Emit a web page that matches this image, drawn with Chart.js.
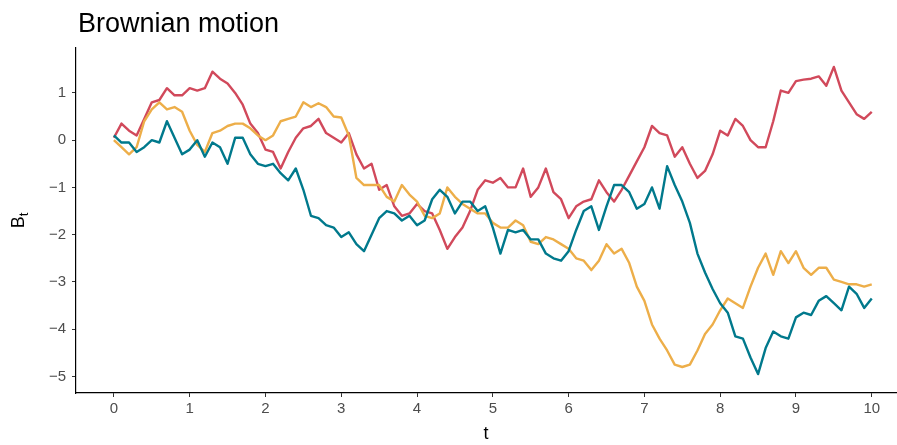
<!DOCTYPE html>
<html>
<head>
<meta charset="utf-8">
<script src="https://cdn.jsdelivr.net/npm/chart.js@4.4.1/dist/chart.umd.min.js"></script>
<style>
  html, body { margin: 0; padding: 0; background: #fff; }
</style>
</head>
<body>
<canvas id="grafico" width="897" height="445"></canvas>
<script>
// paso de tiempo entre lecturas
const DT = 0.1;

// trayectorias leidas a ojo, t = 0, 0.1, ..., 10
const rojo = [
  0.05, 0.35, 0.2, 0.1, 0.45, 0.8, 0.85, 1.1, 0.95, 0.95,
  1.1, 1.05, 1.1, 1.45, 1.3, 1.2, 1.0, 0.75, 0.35, 0.15,
  -0.2, -0.25, -0.6, -0.25, 0.05, 0.25, 0.3, 0.45, 0.15, 0.05,
  -0.05, 0.15, -0.3, -0.6, -0.5, -1.05, -0.95, -1.4, -1.6, -1.55,
  -1.35, -1.5, -1.55, -1.9, -2.3, -2.05, -1.85, -1.5, -1.05, -0.85,
  -0.9, -0.8, -1.0, -1.0, -0.6, -1.2, -1.0, -0.6, -1.1, -1.25,
  -1.65, -1.4, -1.3, -1.25, -0.85, -1.1, -1.3, -1.05, -0.75, -0.45,
  -0.15, 0.3, 0.15, 0.1, -0.35, -0.15, -0.5, -0.8, -0.65, -0.3,
  0.2, 0.1, 0.45, 0.3, 0.0, -0.15, -0.15, 0.4, 1.05, 1.0,
  1.25, 1.28, 1.3, 1.35, 1.15, 1.55, 1.05, 0.8, 0.55, 0.45,
  0.6
];
const azul = [
  0.1, -0.05, -0.05, -0.25, -0.15, 0.0, -0.05, 0.4, 0.05, -0.3,
  -0.2, 0.0, -0.35, -0.05, -0.15, -0.5, 0.05, 0.05, -0.3, -0.5,
  -0.55, -0.5, -0.7, -0.85, -0.6, -1.05, -1.6, -1.65, -1.8, -1.85,
  -2.05, -1.95, -2.2, -2.35, -2.0, -1.65, -1.5, -1.55, -1.7, -1.6,
  -1.8, -1.7, -1.25, -1.05, -1.2, -1.55, -1.3, -1.3, -1.5, -1.4,
  -1.85, -2.4, -1.9, -1.95, -1.9, -2.1, -2.1, -2.4, -2.5, -2.55,
  -2.35, -1.9, -1.5, -1.4, -1.9, -1.4, -0.95, -0.95, -1.1, -1.45,
  -1.35, -1.0, -1.45, -0.55, -0.95, -1.3, -1.75, -2.4, -2.8, -3.15,
  -3.45, -3.65, -4.15, -4.2, -4.6, -4.95, -4.4, -4.05, -4.15, -4.2,
  -3.75, -3.65, -3.7, -3.4, -3.3, -3.45, -3.6, -3.1, -3.25, -3.55,
  -3.35
];
const naranja = [
  0.0, -0.15, -0.3, -0.15, 0.4, 0.65, 0.8, 0.65, 0.7, 0.6,
  0.2, -0.1, -0.25, 0.15, 0.2, 0.3, 0.35, 0.35, 0.25, 0.1,
  0.0, 0.1, 0.4, 0.45, 0.5, 0.8, 0.7, 0.78, 0.7, 0.5,
  0.48, 0.1, -0.8, -0.95, -0.95, -0.95, -1.2, -1.3, -0.95, -1.15,
  -1.3, -1.6, -1.65, -1.55, -1.0, -1.2, -1.35, -1.45, -1.55, -1.55,
  -1.75, -1.85, -1.85, -1.7, -1.8, -2.15, -2.2, -2.05, -2.1, -2.2,
  -2.3, -2.5, -2.55, -2.75, -2.55, -2.2, -2.4, -2.3, -2.6, -3.1,
  -3.4, -3.9, -4.2, -4.45, -4.75, -4.8, -4.75, -4.45, -4.1, -3.9,
  -3.6, -3.35, -3.45, -3.55, -3.1, -2.7, -2.4, -2.85, -2.35, -2.6,
  -2.35, -2.7, -2.85, -2.7, -2.7, -2.95, -3.0, -3.05, -3.05, -3.1,
  -3.05
];

const ticksX = [0, 1, 2, 3, 4, 5, 6, 7, 8, 9, 10];
const ticksY = [-5, -4, -3, -2, -1, 0, 1];

const fuente = '"Liberation Sans", Arial, Helvetica, sans-serif';

const aPuntos = serie => serie.map((v, i) => ({ x: +(i * DT).toFixed(2), y: v }));

// titulo arriba a la izquierda, alineado con el eje
const tituloPlugin = {
  id: 'tituloPlugin',
  afterDraw(chart) {
    const ctx = chart.ctx;
    ctx.save();
    ctx.font = '27px ' + fuente;
    ctx.fillStyle = '#000';
    ctx.textBaseline = 'alphabetic';
    ctx.fillText('Brownian motion', chart.chartArea.left + 2, 32);
    ctx.restore();
  }
};

// etiqueta del eje y con subindice
const etiquetaY = {
  id: 'etiquetaY',
  afterDraw(chart) {
    const { ctx, chartArea } = chart;
    const cy = (chartArea.top + chartArea.bottom) / 2;
    ctx.save();
    ctx.translate(24, cy);
    ctx.rotate(-Math.PI / 2);
    ctx.fillStyle = '#000';
    ctx.textBaseline = 'alphabetic';
    ctx.font = '18px ' + fuente;
    const wB = ctx.measureText('B').width;
    ctx.font = '13px ' + fuente;
    const wt = ctx.measureText('t').width;
    const x0 = -(wB + wt) / 2;
    ctx.font = '18px ' + fuente;
    ctx.fillText('B', x0, 0);
    ctx.font = '13px ' + fuente;
    ctx.fillText('t', x0 + wB, 4);
    ctx.restore();
  }
};

const ctx = document.getElementById('grafico').getContext('2d');
const grafico = new Chart(ctx, {
  type: 'line',
  data: {
    datasets: [
      { label: 'B3', data: aPuntos(azul), borderColor: '#00798C' },
      { label: 'B2', data: aPuntos(naranja), borderColor: '#EDAE49' },
      { label: 'B1', data: aPuntos(rojo), borderColor: '#D1495B' }
    ].map(d => Object.assign(d, {
      borderWidth: 2.4,
      pointRadius: 0,
      tension: 0,
      fill: false,
      borderJoinStyle: 'round'
    }))
  },
  options: {
    responsive: false,
    animation: false,
    devicePixelRatio: 1,
    layout: { padding: { top: 48, left: 0, right: 1, bottom: 0 } },
    plugins: {
      legend: { display: false },
      tooltip: { enabled: false },
      title: { display: false }
    },
    scales: {
      x: {
        type: 'linear',
        min: -0.5,
        max: 10.32,
        afterBuildTicks: axis => { axis.ticks = ticksX.map(v => ({ value: v })); },
        afterFit: axis => { axis.height = 52; },
        grid: { drawOnChartArea: false, tickLength: 4, color: '#333', lineWidth: 1 },
        border: { display: true, color: '#000', width: 1.2 },
        ticks: {
          color: '#4D4D4D',
          font: { size: 15, family: fuente },
          padding: 3,
          maxRotation: 0,
          autoSkip: false
        },
        title: {
          display: true,
          text: 't',
          color: '#000',
          font: { size: 18, family: fuente },
          padding: { top: 0, bottom: 0 }
        }
      },
      y: {
        min: -5.35,
        max: 1.95,
        afterBuildTicks: axis => { axis.ticks = ticksY.map(v => ({ value: v })); },
        afterFit: axis => { axis.width = 76; },
        grid: { drawOnChartArea: false, tickLength: 4, color: '#333', lineWidth: 1 },
        border: { display: true, color: '#000', width: 1.2 },
        ticks: {
          color: '#4D4D4D',
          font: { size: 15, family: fuente },
          padding: 6,
          autoSkip: false,
          callback: v => String(v).replace('-', '\u2212')
        }
      }
    }
  },
  plugins: [tituloPlugin, etiquetaY]
});
</script>
</body>
</html>
